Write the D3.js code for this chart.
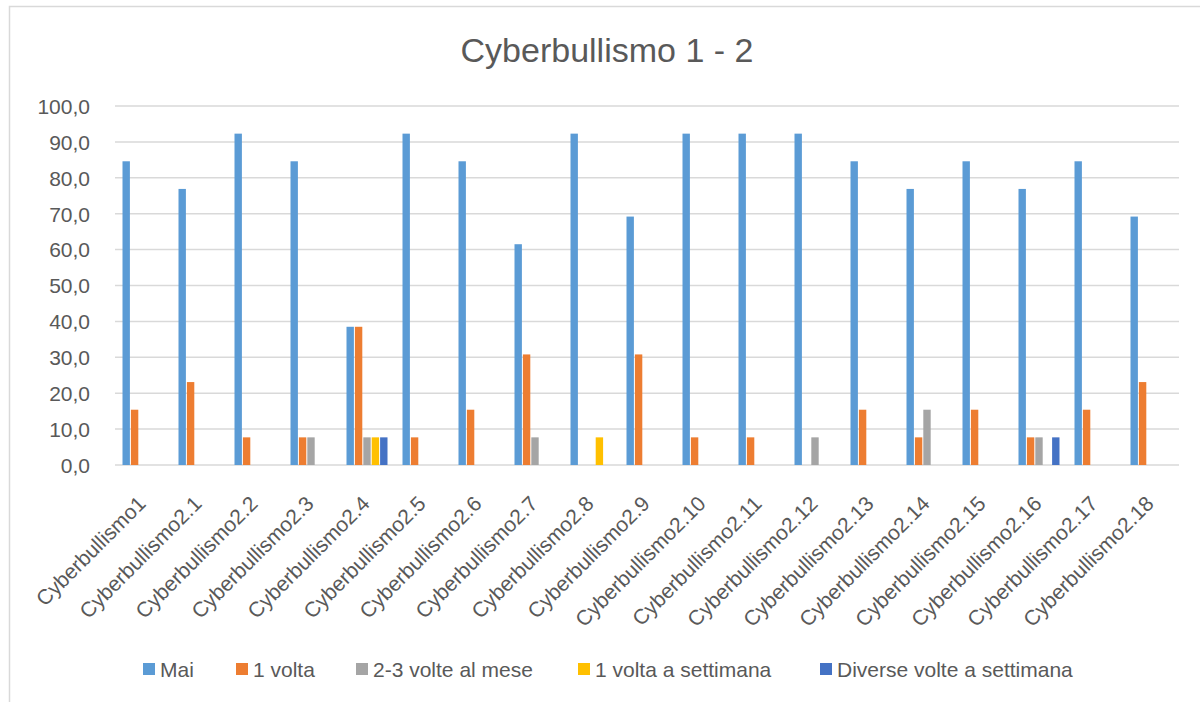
<!DOCTYPE html>
<html>
<head>
<meta charset="utf-8">
<script src="https://cdn.jsdelivr.net/npm/d3@7"></script>
<style>
    body { margin: 0; background: #fff; }
    text { font-family: "Liberation Sans", Arial, sans-serif; fill: #595959; }
</style>
</head>
<body>
<div id="chart"></div>
<script>
const categories = ["Cyberbullismo1", "Cyberbullismo2.1", "Cyberbullismo2.2", "Cyberbullismo2.3",
    "Cyberbullismo2.4", "Cyberbullismo2.5", "Cyberbullismo2.6", "Cyberbullismo2.7", "Cyberbullismo2.8",
    "Cyberbullismo2.9", "Cyberbullismo2.10", "Cyberbullismo2.11", "Cyberbullismo2.12", "Cyberbullismo2.13",
    "Cyberbullismo2.14", "Cyberbullismo2.15", "Cyberbullismo2.16", "Cyberbullismo2.17", "Cyberbullismo2.18"];

const seriesNames = ["Mai", "1 volta", "2-3 volte al mese", "1 volta a settimana", "Diverse volte a settimana"];
const colors = ["#5B9BD5", "#ED7D31", "#A5A5A5", "#FFC000", "#4472C4"];

const mai = [84.6, 76.9, 92.3, 84.6, 38.5, 92.3, 84.6, 61.5, 92.3, 69.2, 92.3, 92.3, 92.3, 84.6, 76.9, 84.6, 76.9, 84.6, 69.2];
const unaVolta = [15.4, 23.1, 7.7, 7.7, 38.5, 7.7, 15.4, 30.8, 0, 30.8, 7.7, 7.7, 0, 15.4, 7.7, 15.4, 7.7, 15.4, 23.1];
const dueTreMese = [0, 0, 0, 7.7, 7.7, 0, 0, 7.7, 0, 0, 0, 0, 7.7, 0, 15.4, 0, 7.7, 0, 0];
const unaSettimana = [0, 0, 0, 0, 7.7, 0, 0, 0, 7.7, 0, 0, 0, 0, 0, 0, 0, 0, 0, 0];
const diverseSettimana = [0, 0, 0, 0, 7.7, 0, 0, 0, 0, 0, 0, 0, 0, 0, 0, 0, 7.7, 0, 0];

const yTicks = [0, 10, 20, 30, 40, 50, 60, 70, 80, 90, 100];

const seriesValues = [mai, unaVolta, dueTreMese, unaSettimana, diverseSettimana];

function drawChart() {
    const width = 1200, height = 702;
    const plot = { left: 115, right: 1179, top: 106, bottom: 465 };

    const svg = d3.select("#chart").append("svg")
        .attr("width", width)
        .attr("height", height);

    // chart border
    svg.append("rect")
        .attr("x", 9.5).attr("y", 6.5)
        .attr("width", 1250).attr("height", 750)
        .attr("fill", "none")
        .attr("stroke", "#d9d9d9")
        .attr("stroke-width", 1.5);

    svg.append("text")
        .attr("x", 607)
        .attr("y", 62)
        .attr("text-anchor", "middle")
        .style("font-size", "34px")
        .text("Cyberbullismo 1 - 2");

    const y = d3.scaleLinear().domain([0, 100]).range([plot.bottom, plot.top]);

    const x0 = d3.scaleBand()
        .domain(categories)
        .range([plot.left, plot.right]);

    const x1 = d3.scaleBand()
        .domain(seriesNames)
        .range([7.5, x0.bandwidth() - 7.5])
        .paddingInner(0.12);

    // gridlines
    svg.append("g")
        .selectAll("line")
        .data(yTicks)
        .join("line")
        .attr("x1", plot.left)
        .attr("x2", plot.right)
        .attr("y1", d => y(d))
        .attr("y2", d => y(d))
        .attr("stroke", "#d9d9d9")
        .attr("stroke-width", 1.5);

    const yAxis = svg.append("g")
        .attr("transform", `translate(${plot.left - 22},0)`)
        .call(d3.axisLeft(y).tickValues(yTicks).tickSize(0)
            .tickFormat(d => d3.format(".1f")(d).replace(".", ",")));
    yAxis.select(".domain").remove();
    yAxis.selectAll("text")
        .attr("dy", "0.35em")
        .style("font-size", "21px")
        .style("font-family", "Liberation Sans, Arial, sans-serif")
        .attr("fill", "#595959");

    // bars
    const groups = svg.append("g")
        .selectAll("g")
        .data(categories)
        .join("g")
        .attr("transform", d => `translate(${x0(d)},0)`);

    groups.selectAll("rect")
        .data((c, i) => seriesNames.map((s, k) => ({ series: s, value: seriesValues[k][i], color: colors[k] })))
        .join("rect")
        .filter(d => d.value > 0)
        .attr("x", d => x1(d.series))
        .attr("y", d => y(d.value))
        .attr("width", x1.bandwidth())
        .attr("height", d => y(0) - y(d.value))
        .attr("fill", d => d.color);

    // category labels
    svg.append("g")
        .selectAll("text")
        .data(categories)
        .join("text")
        .attr("text-anchor", "end")
        .attr("transform", d => `translate(${x0(d) + x0.bandwidth() / 2 + 4},${plot.bottom + 40}) rotate(-45)`)
        .style("font-size", "21px")
        .text(d => d);

    // legend
    const legendX = [143, 236, 356, 578, 820];
    const legend = svg.append("g")
        .selectAll("g")
        .data(seriesNames)
        .join("g")
        .attr("transform", (d, i) => `translate(${legendX[i]},663)`);

    legend.append("rect")
        .attr("width", 12)
        .attr("height", 12)
        .attr("fill", (d, i) => colors[i]);

    legend.append("text")
        .attr("x", 17)
        .attr("y", 14)
        .style("font-size", "21px")
        .text(d => d);
}

drawChart();
</script>
</body>
</html>
